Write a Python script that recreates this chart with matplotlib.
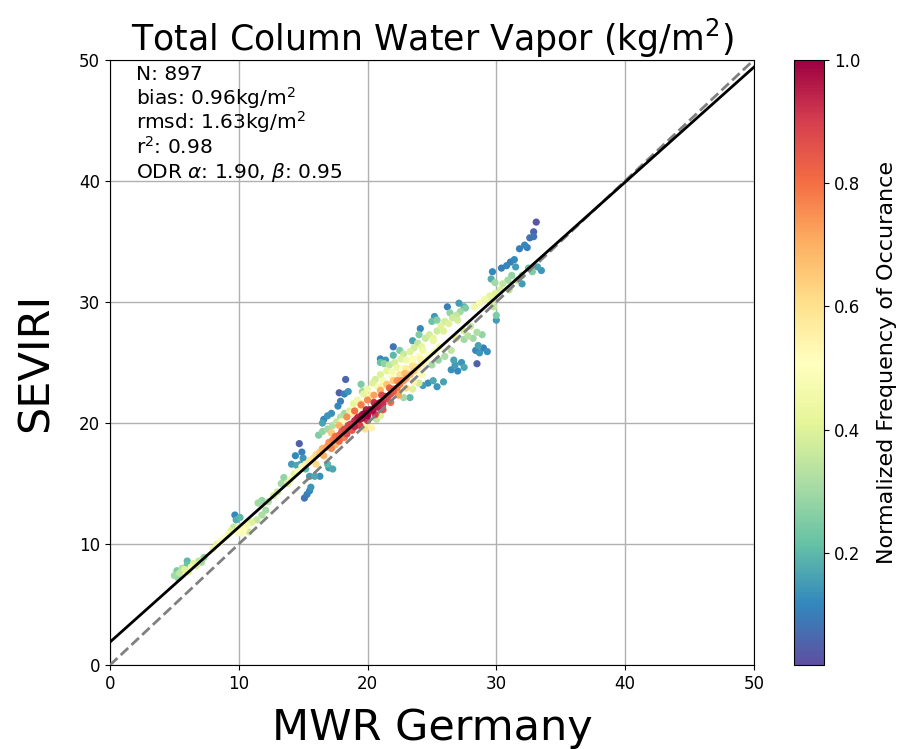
import numpy as np
import matplotlib
matplotlib.use('Agg')
import matplotlib.pyplot as plt

# MWR (x), SEVIRI (y), normalized density (c)
tail_x = [5.0, 5.2, 5.4, 5.6, 5.8, 6.0, 6.1, 6.3, 6.5, 6.7, 6.9, 7.1, 7.3, 5.3, 6.0,
          8.0, 8.3, 8.6, 8.9, 9.2, 9.4, 9.6, 9.7, 9.8, 9.9, 10.0, 10.2, 10.4, 10.6, 10.1, 10.8, 11.0, 11.4, 11.8, 12.1,
          11.5, 11.8, 12.3, 12.7, 13.0, 13.3, 13.5, 13.8, 14.0, 14.3, 14.6, 14.9, 15.2, 15.5]
tail_y = [7.4, 7.8, 7.6, 8.0, 7.9, 8.3, 7.7, 8.1, 8.4, 8.2, 8.6, 8.5, 8.9, 7.2, 8.6,
          9.6, 10.0, 10.2, 10.5, 10.8, 11.1, 11.4, 12.4, 12.0, 11.0, 11.4, 10.9, 11.2, 11.6, 12.2, 11.0, 11.8, 12.0, 12.4, 12.8,
          13.4, 13.6, 13.5, 14.0, 14.3, 15.0, 15.5, 15.0, 15.3, 15.8, 16.0, 16.4, 16.6, 16.9]
tail_c = [0.30, 0.25, 0.35, 0.33, 0.40, 0.22, 0.42, 0.45, 0.40, 0.38, 0.35, 0.30, 0.28, 0.28, 0.20,
          0.45, 0.42, 0.48, 0.50, 0.46, 0.40, 0.35, 0.12, 0.18, 0.50, 0.44, 0.48, 0.52, 0.45, 0.20, 0.38, 0.40, 0.35, 0.32, 0.30,
          0.30, 0.28, 0.33, 0.38, 0.36, 0.30, 0.28, 0.40, 0.45, 0.42, 0.48, 0.50, 0.55, 0.58]

outl_x = [14.7, 14.4, 14.9, 15.0, 14.1, 14.5, 14.8, 15.2, 15.5, 15.9, 16.3, 15.1, 15.3, 15.5, 15.6, 17.0, 17.3, 16.9,
          16.6, 16.9, 17.2, 16.5, 17.7, 17.9, 18.2, 18.5, 17.8, 18.3,
          16.2, 16.5, 16.9, 17.3, 17.6, 17.9, 18.2, 17.2, 19.5, 19.6]
outl_y = [18.3, 17.3, 17.6, 17.1, 16.6, 16.5, 16.6, 16.2, 15.6, 15.6, 15.6, 13.8, 14.1, 14.4, 14.7, 16.3, 16.2, 16.6,
          20.3, 20.6, 20.8, 20.0, 21.4, 21.8, 22.4, 22.6, 22.5, 23.6,
          19.0, 19.3, 19.5, 19.8, 20.1, 20.5, 20.8, 19.2, 23.2, 22.6]
outl_c = [0.05, 0.12, 0.10, 0.14, 0.15, 0.17, 0.16, 0.20, 0.15, 0.17, 0.13, 0.08, 0.10, 0.12, 0.14, 0.15, 0.17, 0.20,
          0.12, 0.14, 0.13, 0.16, 0.12, 0.10, 0.11, 0.14, 0.05, 0.06,
          0.25, 0.28, 0.30, 0.32, 0.35, 0.33, 0.30, 0.35, 0.25, 0.30]

upper_x = [18.6, 18.9, 19.2, 19.4, 19.7, 20.0, 20.2, 20.4, 20.6, 20.8, 21.0, 21.2, 21.5, 21.7, 21.9, 22.1, 22.3, 22.6,
           22.8, 23.0, 23.3, 23.6, 23.9, 24.2, 24.5, 24.8, 25.1, 25.4, 25.7, 26.0, 26.3, 26.6, 26.9, 27.2, 27.0,
           21.3, 21.0, 22.5, 24.0, 25.0, 25.4, 26.4, 27.6, 22.0,
           22.0, 21.0, 21.4, 24.1, 25.2, 25.3, 26.2, 27.1, 27.5, 23.5,
           18.0, 18.8, 19.5, 20.3, 21.1, 21.9, 22.7, 23.5, 24.3, 25.1, 25.9]
upper_y = [21.0, 21.6, 21.9, 21.3, 22.4, 22.8, 22.2, 23.3, 23.6, 23.0, 24.0, 23.5, 24.3, 24.8, 24.2, 25.0, 24.6, 25.3,
           25.7, 25.2, 25.9, 26.2, 26.6, 26.3, 27.0, 27.3, 27.0, 27.6, 28.0, 28.4, 28.2, 28.7, 28.9, 29.2, 28.5,
           24.9, 25.0, 26.0, 27.3, 28.4, 28.5, 29.1, 29.5, 25.6,
           26.3, 25.3, 25.2, 27.8, 28.8, 28.6, 29.6, 29.9, 29.6, 26.8,
           20.1, 20.8, 21.6, 22.3, 23.0, 23.8, 24.5, 25.3, 26.0, 26.8, 27.6]
upper_c = [0.40, 0.42, 0.45, 0.50, 0.42, 0.45, 0.50, 0.40, 0.38, 0.48, 0.40, 0.47, 0.42, 0.35, 0.46, 0.38, 0.44, 0.40,
           0.36, 0.45, 0.40, 0.38, 0.35, 0.42, 0.36, 0.38, 0.42, 0.37, 0.40, 0.38, 0.40, 0.37, 0.35, 0.30, 0.38,
           0.28, 0.22, 0.25, 0.25, 0.22, 0.26, 0.28, 0.25, 0.20,
           0.08, 0.12, 0.14, 0.12, 0.14, 0.16, 0.10, 0.15, 0.18, 0.16,
           0.50, 0.55, 0.58, 0.56, 0.55, 0.52, 0.50, 0.48, 0.45, 0.43, 0.40]

core_x = [15.5, 15.8, 16.0, 16.3, 16.5, 16.8, 17.0, 17.3, 17.5, 17.8, 18.0, 18.2, 18.5, 18.7, 19.0, 19.2, 19.4, 19.6,
          19.8, 20.0, 20.2, 20.4, 20.6, 20.8, 21.0, 21.2, 21.4, 21.6, 21.8, 22.0, 22.3, 22.5, 22.8, 23.0, 23.3, 23.6,
          23.9, 24.2, 24.5, 24.8, 25.2, 25.6,
          17.2, 17.8, 18.4, 19.0, 19.5, 20.0, 20.5, 21.0, 21.5, 22.0, 22.5, 23.0, 23.5, 24.0,
          17.5, 18.2, 18.8, 19.4, 20.0, 20.6, 21.2, 21.8, 22.4, 23.0, 23.6, 24.2, 20.3, 19.8,
          19.9, 20.7, 21.0, 22.8, 22.5, 23.5, 24.0,
          16.0, 16.6, 17.2, 17.8, 18.4, 19.0, 19.6, 20.2, 20.8, 21.4, 22.0, 22.6, 23.2, 23.8, 24.4,
          16.3, 16.9, 17.5, 18.1, 18.7, 19.3, 19.9, 20.5, 21.1, 21.7, 22.3, 22.9, 23.5, 24.1]
core_y = [16.8, 17.1, 17.4, 17.6, 17.9, 18.0, 18.4, 18.6, 18.9, 19.0, 19.3, 19.5, 19.8, 19.9, 20.2, 20.4, 20.3, 20.7,
          20.8, 20.6, 21.1, 21.0, 21.4, 21.3, 21.7, 21.6, 22.0, 22.2, 22.4, 22.6, 22.9, 23.2, 23.5, 23.7, 24.0, 24.3,
          24.6, 24.9, 25.2, 25.6, 25.9, 26.3,
          19.2, 19.8, 20.5, 21.0, 21.5, 21.9, 22.3, 22.7, 23.2, 23.5, 24.0, 24.5, 25.0, 25.5,
          18.2, 18.8, 19.4, 19.8, 20.2, 20.7, 21.1, 21.7, 22.3, 22.9, 23.4, 24.0, 19.6, 19.5,
          19.9, 20.3, 20.6, 22.1, 22.5, 22.8, 23.3,
          16.6, 17.3, 17.9, 18.5, 19.1, 19.7, 20.4, 21.0, 21.6, 22.2, 22.8, 23.5, 24.0, 24.6, 25.2,
          17.5, 18.1, 18.7, 19.3, 19.9, 20.5, 21.1, 21.7, 22.3, 22.9, 23.5, 24.1, 24.7, 25.3]
core_c = [0.55, 0.60, 0.62, 0.66, 0.70, 0.72, 0.75, 0.78, 0.80, 0.82, 0.85, 0.87, 0.88, 0.90, 0.93, 0.95, 0.97, 0.98,
          1.00, 0.99, 0.98, 0.97, 0.96, 0.95, 0.93, 0.92, 0.90, 0.88, 0.86, 0.84, 0.80, 0.78, 0.74, 0.72, 0.68, 0.64,
          0.60, 0.56, 0.52, 0.50, 0.48, 0.45,
          0.65, 0.70, 0.75, 0.80, 0.78, 0.76, 0.72, 0.70, 0.66, 0.65, 0.60, 0.57, 0.52, 0.50,
          0.70, 0.78, 0.85, 0.90, 0.92, 0.90, 0.86, 0.80, 0.72, 0.62, 0.55, 0.48, 0.55, 0.60,
          0.45, 0.35, 0.40, 0.30, 0.45, 0.40, 0.38,
          0.62, 0.70, 0.76, 0.82, 0.88, 0.94, 0.98, 0.97, 0.94, 0.90, 0.84, 0.76, 0.68, 0.60, 0.52,
          0.65, 0.72, 0.78, 0.84, 0.90, 0.93, 0.95, 0.92, 0.88, 0.82, 0.75, 0.68, 0.60, 0.55]

lower_x = [24.3, 24.7, 25.1, 25.4, 25.9, 23.3, 26.5, 26.8, 27.0, 27.3, 26.7, 27.5, 28.5, 28.4, 28.7, 29.0, 29.3, 28.6,
           25.0, 25.5, 26.0, 26.5, 27.5, 27.8, 28.2, 28.5, 28.9, 27.5, 26.9, 28.0]
lower_y = [23.1, 23.3, 23.5, 23.0, 23.4, 22.1, 24.4, 24.8, 24.3, 25.0, 25.2, 24.6, 24.9, 26.0, 25.8, 26.2, 25.9, 26.4,
           24.8, 25.2, 25.5, 26.0, 26.9, 27.2, 27.0, 27.5, 27.3, 27.6, 27.0, 28.0]
lower_c = [0.15, 0.13, 0.17, 0.14, 0.16, 0.20, 0.13, 0.15, 0.12, 0.14, 0.16, 0.17, 0.05, 0.12, 0.14, 0.10, 0.13, 0.16,
           0.30, 0.28, 0.32, 0.35, 0.30, 0.33, 0.30, 0.32, 0.28, 0.38, 0.40, 0.36]

top_x = [28.3, 28.7, 29.1, 29.5, 29.9, 30.3, 29.8, 30.0, 30.0, 29.6, 30.5, 30.9, 29.9, 29.6, 29.7, 30.4, 30.8, 31.1,
         31.4, 31.5, 31.8, 32.2, 32.4, 32.6, 32.9, 32.9, 33.1, 33.5, 33.2, 32.8, 32.5, 32.0, 31.6, 32.0, 31.2, 31.0]
top_y = [29.6, 29.9, 30.2, 30.5, 30.7, 31.0, 29.6, 28.9, 28.5, 30.0, 31.5, 31.8, 31.6, 31.9, 32.5, 32.8, 33.0, 33.3,
         33.5, 32.9, 34.4, 34.7, 34.5, 35.3, 35.8, 35.4, 36.6, 32.6, 32.9, 32.5, 32.8, 32.2, 31.8, 31.5, 32.2, 31.0]
top_c = [0.45, 0.47, 0.45, 0.42, 0.40, 0.38, 0.35, 0.25, 0.15, 0.40, 0.35, 0.30, 0.30, 0.18, 0.12, 0.10, 0.12, 0.10,
         0.12, 0.15, 0.10, 0.12, 0.10, 0.08, 0.06, 0.08, 0.03, 0.14, 0.16, 0.25, 0.22, 0.30, 0.32, 0.15, 0.28, 0.35]

stats_lines = ['N: 897', 'bias: 0.96kg/m$^2$', 'rmsd: 1.63kg/m$^2$', 'r$^2$: 0.98',
               'ODR $\\alpha$: 1.90, $\\beta$: 0.95']

x = np.array(tail_x + outl_x + upper_x + core_x + lower_x + top_x)
y = np.array(tail_y + outl_y + upper_y + core_y + lower_y + top_y)
c = np.array(tail_c + outl_c + upper_c + core_c + lower_c + top_c)

# densest points on top
idx = c.argsort()
x, y, c = x[idx], y[idx], c[idx]

alpha_odr, beta_odr = 1.90, 0.95

fig = plt.figure(figsize=(9.05, 7.49), dpi=100)
ax = fig.add_axes([0.1215, 0.112, 0.7115, 0.808])
cax = fig.add_axes([0.877, 0.112, 0.034, 0.808])

sc = ax.scatter(x, y, c=c, cmap='Spectral_r', s=27, edgecolors='none', vmin=0.018, vmax=1.0, zorder=3)

line = np.array([0, 50])
ax.plot(line, line, '--', color='gray', lw=2, zorder=4)
ax.plot(line, alpha_odr + beta_odr * line, '-', color='black', lw=2, zorder=5)

ax.set_xlim(0, 50)
ax.set_ylim(0, 50)
ax.set_xticks([0, 10, 20, 30, 40, 50])
ax.set_yticks([0, 10, 20, 30, 40, 50])
ax.tick_params(labelsize=12)
ax.grid(True, color='#b0b0b0', lw=1, zorder=0)
ax.set_axisbelow(True)

ax.set_title('Total Column Water Vapor (kg/m$^2$)', fontsize=25)
ax.set_xlabel('MWR Germany', fontsize=31, labelpad=10)
ax.set_ylabel('SEVIRI', fontsize=31, labelpad=16)

# stats text, one line at a time (tight spacing like the original)
for i, s in enumerate(stats_lines):
    ax.text(0.04, 0.967 - i * 0.0405, s, transform=ax.transAxes, fontsize=14.5,
            va='baseline', ha='left')

cb = fig.colorbar(sc, cax=cax)
cb.set_ticks([0.2, 0.4, 0.6, 0.8, 1.0])
cb.ax.tick_params(labelsize=12)
cb.set_label('Normalized Frequency of Occurance', fontsize=16, labelpad=12)

fig.savefig('out.png', dpi=100)
